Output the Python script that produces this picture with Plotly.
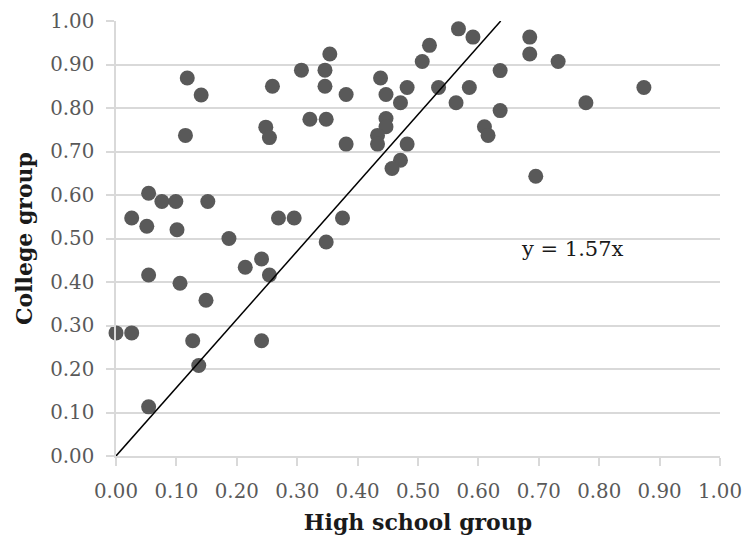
import plotly.graph_objects as go

high_school = [0.118, 0.141, 0.115, 0.259, 0.307, 0.248, 0.254, 0.321,
               0.026, 0.051, 0.054, 0.076, 0.099, 0.101, 0.152, 0.187, 0.269, 0.295,
               0.000, 0.026, 0.054, 0.106, 0.054, 0.149, 0.127, 0.137, 0.214, 0.241, 0.254, 0.241,
               0.354, 0.346, 0.346, 0.381, 0.348, 0.381, 0.438, 0.447, 0.482, 0.471, 0.447, 0.447,
               0.433, 0.433, 0.482, 0.471, 0.457, 0.375, 0.348,
               0.567, 0.591, 0.519, 0.507, 0.534, 0.585, 0.563, 0.636, 0.636, 0.610, 0.616,
               0.685, 0.685, 0.695, 0.732, 0.778, 0.874]
college = [0.869, 0.830, 0.737, 0.850, 0.887, 0.756, 0.732, 0.774,
           0.547, 0.528, 0.604, 0.585, 0.585, 0.520, 0.585, 0.500, 0.547, 0.547,
           0.283, 0.283, 0.416, 0.397, 0.113, 0.358, 0.265, 0.208, 0.434, 0.453, 0.416, 0.265,
           0.924, 0.887, 0.850, 0.831, 0.774, 0.717, 0.869, 0.831, 0.847, 0.812, 0.776, 0.757,
           0.737, 0.717, 0.717, 0.680, 0.661, 0.547, 0.492,
           0.982, 0.963, 0.944, 0.907, 0.847, 0.847, 0.812, 0.886, 0.794, 0.757, 0.737,
           0.963, 0.924, 0.643, 0.907, 0.812, 0.847]
slope = 1.57
tick_vals = [i / 10 for i in range(11)]
tick_text = ["%.2f" % v for v in tick_vals]

FONT = "DejaVu Serif"

fig = go.Figure()
fig.add_trace(go.Scatter(
    x=high_school, y=college, mode="markers",
    marker=dict(size=15, color="#595959"),
    cliponaxis=False, showlegend=False))
fig.add_trace(go.Scatter(
    x=[0, 1 / slope], y=[0, 1], mode="lines",
    line=dict(color="#000000", width=1.5), showlegend=False))

fig.add_annotation(x=0.668, y=0.476, xref="x", yref="y", text="y = %.2fx" % slope,
                   showarrow=False, xanchor="left", yanchor="middle",
                   font=dict(family=FONT, size=21, color="#1a1a1a"))

axis_common = dict(
    range=[0, 1], tickvals=tick_vals, ticktext=tick_text,
    showline=True, linecolor="#d9d9d9", linewidth=1.5,
    zeroline=False, ticklabeloverflow="allow",
    ticks="outside", ticklen=8, tickcolor="#d9d9d9", tickwidth=1.5,
    tickfont=dict(family=FONT, size=19.8, color="#595959"),
)
fig.update_xaxes(**axis_common, showgrid=False, ticklabelstandoff=8,
                 title=dict(text="<b>High school group</b>", standoff=13,
                            font=dict(family=FONT, size=22, color="#1a1a1a")))
fig.update_yaxes(**axis_common, showgrid=True, gridcolor="#d9d9d9", gridwidth=1.5,
                 ticklabelstandoff=8,
                 title=dict(text="<b>College group</b>", standoff=12,
                            font=dict(family=FONT, size=22, color="#1a1a1a")))

fig.update_layout(
    width=742, height=543,
    margin=dict(l=116, r=22, t=21, b=87, autoexpand=False),
    plot_bgcolor="white", paper_bgcolor="white",
)
fig.write_html("out.html")
